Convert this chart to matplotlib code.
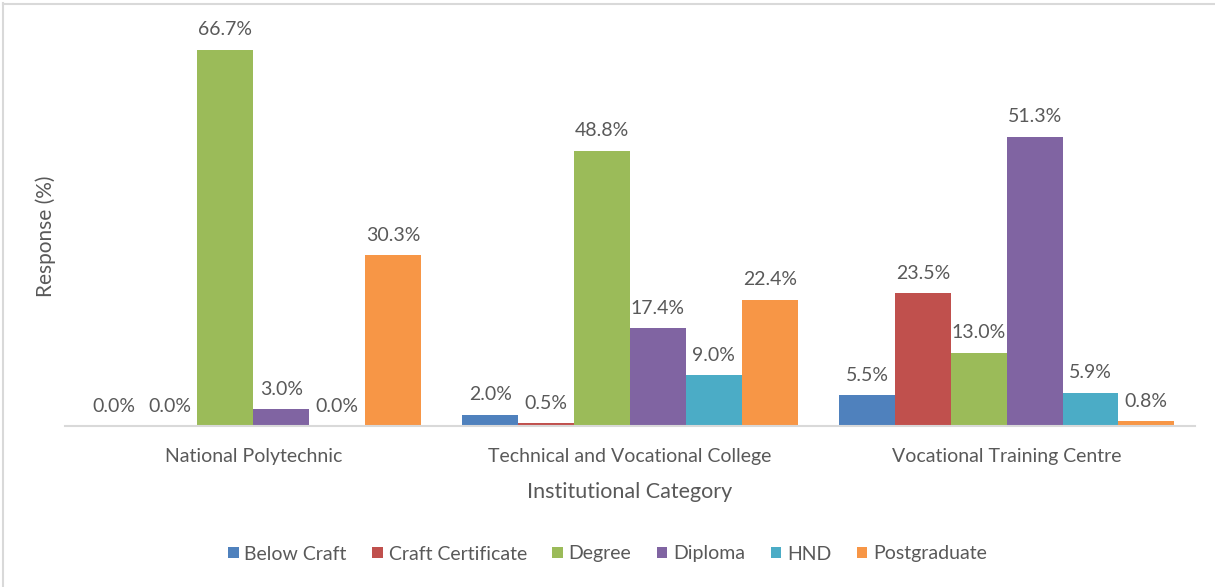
import numpy as np
import matplotlib.pyplot as plt
from matplotlib.lines import Line2D

categories = ['National Polytechnic', 'Technical and Vocational College', 'Vocational Training Centre']
series = ['Below Craft', 'Craft Certificate', 'Degree', 'Diploma', 'HND', 'Postgraduate']
below_craft = [0.0, 2.0, 5.5]
craft_certificate = [0.0, 0.5, 23.5]
degree = [66.7, 48.8, 13.0]
diploma = [3.0, 17.4, 51.3]
hnd = [0.0, 9.0, 5.9]
postgraduate = [30.3, 22.4, 0.8]
values = [below_craft, craft_certificate, degree, diploma, hnd, postgraduate]
colors = ['#4F81BD', '#C0504D', '#9BBB59', '#8064A2', '#4BACC6', '#F79646']

plt.rcParams['font.family'] = ['Lato', 'DejaVu Sans']
text_color = '#595959'

fig = plt.figure(figsize=(12.15, 5.87), dpi=100)
ax = fig.add_axes([65 / 1215, 1 - 426 / 587, 1130 / 1215, 395 / 587])

x = np.arange(len(categories))
n = len(series)
width = 0.89 / n
for i, (name, vals) in enumerate(zip(series, values)):
    pos = x - 0.89 / 2 + width * (i + 0.5)
    bars = ax.bar(pos, vals, width, color=colors[i], label=name)
    for b, v in zip(bars, vals):
        ax.text(b.get_x() + b.get_width() / 2, v + 2.0, f'{v:.1f}%', ha='center', va='bottom',
                fontsize=14, color=text_color)

ax.set_xlim(-0.5, 2.5)
ax.set_ylim(0, 70)
ax.set_yticks([])
for s in ['top', 'right', 'left']:
    ax.spines[s].set_visible(False)
ax.spines['bottom'].set_color('#D9D9D9')
ax.spines['bottom'].set_linewidth(1.5)
ax.set_xticks(x)
ax.set_xticklabels(categories, fontsize=14, color=text_color)
ax.tick_params(axis='x', length=0, pad=16)
ax.set_xlabel('Institutional Category', fontsize=15.5, color=text_color, labelpad=12)
ax.set_ylabel('Response (%)', fontsize=15, color=text_color)
ax.yaxis.set_label_coords(-0.008, 0.48)

fig.legend(loc='center', bbox_to_anchor=(0.5, 1 - 554 / 587), ncol=6, frameon=False,
           fontsize=14, labelcolor=text_color, handlelength=0.55, handleheight=0.55,
           handletextpad=0.3, columnspacing=1.3)

fig.add_artist(Line2D([3 / 1215, 3 / 1215], [0, 1 - 3 / 587], transform=fig.transFigure, color='#D9D9D9', lw=1.5))
fig.add_artist(Line2D([3 / 1215, 1], [1 - 4 / 587, 1 - 4 / 587], transform=fig.transFigure, color='#D9D9D9', lw=1.5))

fig.savefig('out.png', dpi=100)
